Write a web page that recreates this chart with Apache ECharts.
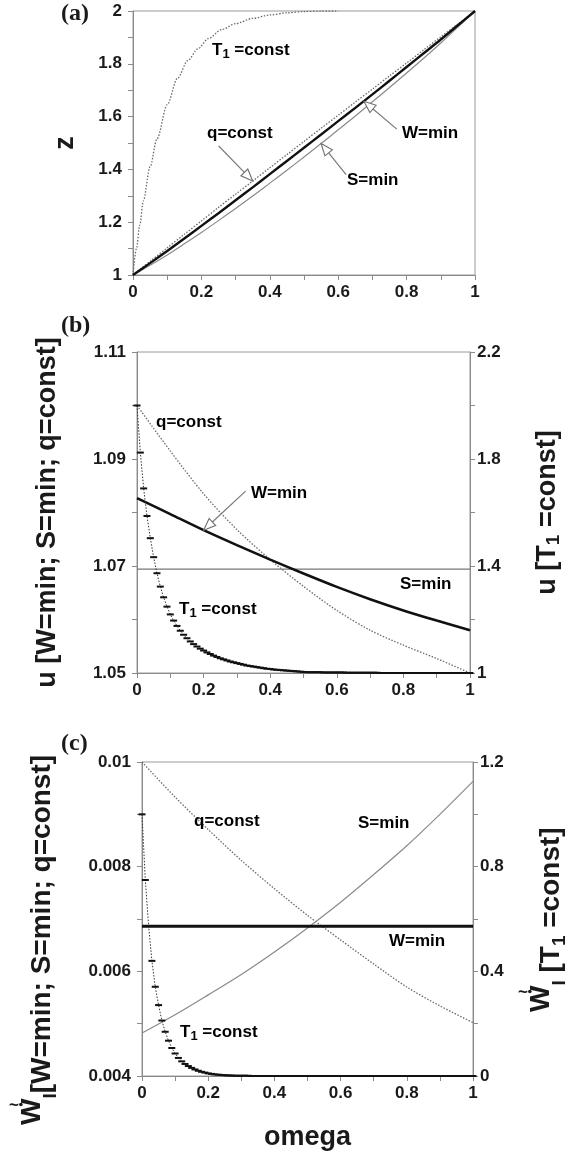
<!DOCTYPE html>
<html>
<head>
<meta charset="utf-8">
<script src="https://cdn.jsdelivr.net/npm/echarts@6/dist/echarts.min.js"></script>
<style>
  html, body { margin: 0; padding: 0; background: #fff; }
  #chart { width: 577px; height: 1152px; }
</style>
</head>
<body>
<div id="chart"></div>
<script>
// ---------- (a) z versus omega ----------
const omegaA = [0, 0.05, 0.1, 0.15, 0.2, 0.25, 0.3, 0.35, 0.4, 0.45, 0.5,
                0.55, 0.6, 0.65, 0.7, 0.75, 0.8, 0.85, 0.9, 0.95, 1];
const zQconst = [1, 1.052, 1.103, 1.154, 1.205, 1.256, 1.306, 1.356, 1.406, 1.456, 1.506,
                 1.556, 1.605, 1.655, 1.704, 1.754, 1.803, 1.853, 1.902, 1.951, 2];
const zWmin = [1, 1.045, 1.091, 1.138, 1.186, 1.234, 1.283, 1.332, 1.382, 1.432, 1.482,
               1.532, 1.583, 1.633, 1.684, 1.736, 1.788, 1.840, 1.892, 1.946, 2];
const zSmin = [1, 1.037, 1.076, 1.118, 1.161, 1.206, 1.252, 1.299, 1.348, 1.397, 1.447,
               1.498, 1.550, 1.602, 1.656, 1.710, 1.765, 1.821, 1.879, 1.939, 2];
const omegaT1a = [0, 0.01, 0.02, 0.03, 0.05, 0.07, 0.1, 0.13, 0.16, 0.19, 0.22,
                  0.26, 0.3, 0.35, 0.4, 0.45, 0.5, 0.55, 0.6];
const zT1const = [1, 1.10, 1.19, 1.28, 1.41, 1.515, 1.645, 1.745, 1.812, 1.857, 1.895,
                  1.930, 1.952, 1.972, 1.985, 1.993, 1.998, 2, 2];

// ---------- (b) u versus omega ----------
const omegaB = [0, 0.1, 0.2, 0.3, 0.4, 0.5, 0.6, 0.7, 0.8, 0.9, 1];
const uQconst = [1.1000, 1.0915, 1.0835, 1.0768, 1.0712, 1.0662, 1.0617, 1.0580, 1.0552, 1.0527, 1.0500];
const uWmin = [1.0827, 1.0797, 1.0767, 1.0739, 1.0712, 1.0686, 1.0661, 1.0638, 1.0617, 1.0598, 1.0580];
const uSmin = [1.0694, 1.0694, 1.0694, 1.0694, 1.0694, 1.0694, 1.0694, 1.0694, 1.0694, 1.0694, 1.0694];

// fine omega grid of the T1=const solution, (b) and (c)
const omegaFine = [
  0.00, 0.01, 0.02, 0.03, 0.04, 0.05, 0.06, 0.07, 0.08, 0.09,
  0.10, 0.11, 0.12, 0.13, 0.14, 0.15, 0.16, 0.17, 0.18, 0.19,
  0.20, 0.21, 0.22, 0.23, 0.24, 0.25, 0.26, 0.27, 0.28, 0.29,
  0.30, 0.31, 0.32, 0.33, 0.34, 0.35, 0.36, 0.37, 0.38, 0.39,
  0.40, 0.41, 0.42, 0.43, 0.44, 0.45, 0.46, 0.47, 0.48, 0.49,
  0.50, 0.51, 0.52, 0.53, 0.54, 0.55, 0.56, 0.57, 0.58, 0.59,
  0.60, 0.61, 0.62, 0.63, 0.64, 0.65, 0.66, 0.67, 0.68, 0.69,
  0.70, 0.71, 0.72, 0.73, 0.74, 0.75, 0.76, 0.77, 0.78, 0.79,
  0.80, 0.81, 0.82, 0.83, 0.84, 0.85, 0.86, 0.87, 0.88, 0.89,
  0.90, 0.91, 0.92, 0.93, 0.94, 0.95, 0.96, 0.97, 0.98, 0.99, 1.00
];
const uT1const = [
  2.000, 1.824, 1.690, 1.587, 1.504, 1.433, 1.373, 1.323, 1.283, 1.248,
  1.219, 1.196, 1.176, 1.158, 1.143, 1.130, 1.118, 1.108, 1.099, 1.091,
  1.084, 1.077, 1.071, 1.065, 1.060, 1.055, 1.051, 1.047, 1.043, 1.040,
  1.037, 1.034, 1.031, 1.028, 1.026, 1.024, 1.022, 1.020, 1.018, 1.016,
  1.015, 1.013, 1.012, 1.011, 1.010, 1.009, 1.008, 1.007, 1.006, 1.005,
  1.004, 1.003, 1.003, 1.003, 1.003, 1.003, 1.002, 1.002, 1.002, 1.002,
  1.002, 1.002, 1.002, 1.001, 1.001, 1.001, 1.001, 1.001, 1.001, 1.001,
  1.001, 1.001, 1.001, 1.000, 1.000, 1.000, 1.000, 1.000, 1.000, 1.000,
  1.000, 1.000, 1.000, 1.000, 1.000, 1.000, 1.000, 1.000, 1.000, 1.000,
  1.000, 1.000, 1.000, 1.000, 1.000, 1.000, 1.000, 1.000, 1.000, 1.000, 1.000
];

// ---------- (c) dimensionless power versus omega ----------
const omegaC = [0, 0.1, 0.2, 0.3, 0.4, 0.5, 0.6, 0.7, 0.8, 0.9, 1];
const wQconst = [0.01000, 0.00933, 0.00871, 0.00812, 0.00758, 0.00707, 0.00660, 0.00614, 0.00570, 0.00534, 0.00502];
const wWmin = [0.00686, 0.00686, 0.00686, 0.00686, 0.00686, 0.00686, 0.00686, 0.00686, 0.00686, 0.00686, 0.00686];
const wSmin = [0.00482, 0.00517, 0.00555, 0.00594, 0.00637, 0.00683, 0.00732, 0.00785, 0.00840, 0.00900, 0.00963];
const wT1const = [
  1.000, 0.749, 0.573, 0.440, 0.341, 0.271, 0.212, 0.169, 0.135, 0.107,
  0.086, 0.069, 0.056, 0.046, 0.038, 0.031, 0.025, 0.020, 0.016, 0.013,
  0.010, 0.008, 0.006, 0.005, 0.004, 0.003, 0.002, 0.002, 0.001, 0.001,
  0.001, 0.001, 0.001, 0, 0, 0, 0, 0, 0, 0,
  0, 0, 0, 0, 0, 0, 0, 0, 0, 0,
  0, 0, 0, 0, 0, 0, 0, 0, 0, 0,
  0, 0, 0, 0, 0, 0, 0, 0, 0, 0,
  0, 0, 0, 0, 0, 0, 0, 0, 0, 0,
  0, 0, 0, 0, 0, 0, 0, 0, 0, 0,
  0, 0, 0, 0, 0, 0, 0, 0, 0, 0, 0
];

const FONT_NAME = 'Liberation Sans';
const FONT = '"Liberation Sans", Arial, Helvetica, sans-serif';
const SERIF = '"Liberation Serif", "Times New Roman", serif';
const AXIS_GREY = '#8a8a8a';
const TEXT = '#1a1a1a';
const TICK_SIZE = 17;

const pairs = (xs, ys) => xs.map((x, i) => [x, ys[i]]);

const tickLabel = (fmt, extra) => Object.assign({
  fontSize: TICK_SIZE, fontWeight: 'bold', fontFamily: FONT, color: TEXT, formatter: fmt
}, extra || {});

const fmtOmega = v => {
  const k = Math.round(v * 10);
  if (k % 2 !== 0) return '';
  return k === 0 ? '0' : k === 10 ? '1' : (k / 10).toFixed(1);
};

function xAxisFor(gridIndex, extra) {
  return Object.assign({
    type: 'value', gridIndex, min: 0, max: 1, interval: 0.1,
    axisLine: { show: true, onZero: false, lineStyle: { color: AXIS_GREY, width: 1 } },
    axisTick: { show: true, inside: false, length: 5, lineStyle: { color: AXIS_GREY } },
    splitLine: { show: false },
    axisLabel: tickLabel(fmtOmega, { margin: 9 })
  }, extra || {});
}

function yAxisFor(gridIndex, position, min, max, interval, fmt, extra) {
  return Object.assign({
    type: 'value', gridIndex, position, min, max, interval,
    axisLine: { show: true, onZero: false, lineStyle: { color: AXIS_GREY, width: 1 } },
    axisTick: { show: true, inside: false, length: 5, lineStyle: { color: AXIS_GREY } },
    splitLine: { show: false },
    axisLabel: tickLabel(fmt, { margin: position === 'left' ? 11 : 7 }),
    nameLocation: 'middle', nameRotate: 90
  }, extra || {});
}

const nameStyle = {
  fontSize: 27, fontWeight: 'bold', fontFamily: FONT, color: TEXT,
  rich: {
    t: { fontSize: 27, fontWeight: 'bold', fontFamily: FONT, color: TEXT },
    s: { fontSize: 19, fontWeight: 'bold', fontFamily: FONT, color: TEXT, padding: [12, 0, 0, 0] }
  }
};

const dotted = (color, width) => ({ color, width, type: [1.5, 1.6] });

const option = {
  animation: false,
  backgroundColor: '#fff',
  grid: [
    { left: 133, top: 11, width: 342, height: 264, show: true, borderColor: '#9a9a9a', borderWidth: 1 },
    { left: 137, top: 352, width: 333, height: 321, show: true, borderColor: '#9a9a9a', borderWidth: 1 },
    { left: 142, top: 762, width: 331, height: 314, show: true, borderColor: '#9a9a9a', borderWidth: 1 }
  ],
  xAxis: [
    xAxisFor(0),
    xAxisFor(1),
    xAxisFor(2, {
      name: 'omega', nameLocation: 'middle', nameGap: 48,
      nameTextStyle: { fontSize: 27, fontWeight: 'bold', fontFamily: FONT, color: TEXT }
    })
  ],
  yAxis: [
    yAxisFor(0, 'left', 1, 2, 0.1,
      v => { const k = Math.round(v * 10); return k % 2 ? '' : (k === 10 ? '1' : k === 20 ? '2' : (k / 10).toFixed(1)); },
      { name: 'z', nameGap: 54, nameTextStyle: nameStyle }),
    yAxisFor(1, 'left', 1.05, 1.11, 0.01,
      v => { const k = Math.round(v * 100); return k % 2 ? (k / 100).toFixed(2) : ''; },
      { name: '{t|u [W=min; S=min; q=const]}', nameGap: 76, nameTextStyle: nameStyle }),
    yAxisFor(1, 'right', 1, 2.2, 0.2,
      v => { const k = Math.round(v * 10); return (k - 10) % 4 ? '' : (k === 10 ? '1' : (k / 10).toFixed(1)); },
      { name: '{t|u [T}{s|1}{t| =const]}', nameGap: 62, nameTextStyle: nameStyle }),
    yAxisFor(2, 'left', 0.004, 0.01, 0.001,
      v => { const k = Math.round(v * 1000); return k % 2 ? '' : (k === 10 ? '0.01' : (k / 1000).toFixed(3)); }),
    yAxisFor(2, 'right', 0, 1.2, 0.2,
      v => { const k = Math.round(v * 10); return k % 4 ? '' : (k === 0 ? '0' : (k / 10).toFixed(1)); })
  ],
  series: [
    // (a)
    { name: 'q=const', type: 'line', xAxisIndex: 0, yAxisIndex: 0, data: pairs(omegaA, zQconst),
      showSymbol: false, smooth: 0.3, lineStyle: dotted('#6a6a6a', 1.3), z: 3 },
    { name: 'W=min', type: 'line', xAxisIndex: 0, yAxisIndex: 0, data: pairs(omegaA, zWmin),
      showSymbol: false, smooth: 0.3, lineStyle: { color: '#111', width: 2.4 }, z: 4 },
    { name: 'S=min', type: 'line', xAxisIndex: 0, yAxisIndex: 0, data: pairs(omegaA, zSmin),
      showSymbol: false, smooth: 0.3, lineStyle: { color: '#8a8a8a', width: 1.2 }, z: 3 },
    { name: 'T1=const', type: 'line', xAxisIndex: 0, yAxisIndex: 0, data: pairs(omegaT1a, zT1const),
      showSymbol: false, smooth: 0.3, smoothMonotone: 'x', lineStyle: dotted('#6a6a6a', 1.3), z: 3 },
    // (b)
    { name: 'q=const', type: 'line', xAxisIndex: 1, yAxisIndex: 1, data: pairs(omegaB, uQconst),
      showSymbol: false, smooth: 0.3, lineStyle: dotted('#6a6a6a', 1.3), z: 3 },
    { name: 'W=min', type: 'line', xAxisIndex: 1, yAxisIndex: 1, data: pairs(omegaB, uWmin),
      showSymbol: false, smooth: 0.3, lineStyle: { color: '#111', width: 2.6 }, z: 4 },
    { name: 'S=min', type: 'line', xAxisIndex: 1, yAxisIndex: 1, data: pairs(omegaB, uSmin),
      showSymbol: false, lineStyle: { color: '#777', width: 1.2 }, z: 3 },
    { name: 'T1=const', type: 'line', xAxisIndex: 1, yAxisIndex: 2, data: pairs(omegaFine, uT1const),
      showSymbol: true, symbol: 'rect', symbolSize: [7, 2], itemStyle: { color: '#111' },
      lineStyle: dotted('#333', 1), z: 5 },
    // (c)
    { name: 'q=const', type: 'line', xAxisIndex: 2, yAxisIndex: 3, data: pairs(omegaC, wQconst),
      showSymbol: false, smooth: 0.3, lineStyle: dotted('#6a6a6a', 1.3), z: 3 },
    { name: 'W=min', type: 'line', xAxisIndex: 2, yAxisIndex: 3, data: pairs(omegaC, wWmin),
      showSymbol: false, lineStyle: { color: '#111', width: 3 }, z: 4 },
    { name: 'S=min', type: 'line', xAxisIndex: 2, yAxisIndex: 3, data: pairs(omegaC, wSmin),
      showSymbol: false, smooth: 0.3, lineStyle: { color: '#8a8a8a', width: 1.2 }, z: 3 },
    { name: 'T1=const', type: 'line', xAxisIndex: 2, yAxisIndex: 4, data: pairs(omegaFine, wT1const),
      showSymbol: true, symbol: 'rect', symbolSize: [7, 2], itemStyle: { color: '#111' },
      lineStyle: dotted('#333', 1), z: 5 }
  ]
};

const chart = echarts.init(document.getElementById('chart'));
chart.setOption(option);

// ---------- annotations: panel letters, curve labels, arrows, (c) axis titles ----------
const labelRich = {
  a: { fontSize: 17, fontWeight: 'bold', fontFamily: FONT, color: TEXT },
  s: { fontSize: 13, fontWeight: 'bold', fontFamily: FONT, color: TEXT, padding: [9, 0, 0, 0] }
};

function label(text, x, y) {
  return { type: 'text', z: 20, style: { text, x, y, rich: labelRich, verticalAlign: 'middle', align: 'left' } };
}
function panelTag(text, x, y) {
  return { type: 'text', z: 20, style: { text, x, y, font: 'bold 24px ' + SERIF, fill: TEXT, verticalAlign: 'middle', align: 'left' } };
}

// hollow-headed arrow pointing at tip, drawn from tip + (dx, dy)
function arrow(tip, dx, dy) {
  const tail = [tip[0] + dx, tip[1] + dy];
  const len = Math.hypot(dx, dy);
  const ux = -dx / len, uy = -dy / len;
  const nx = -uy, ny = ux;
  const headL = 12, headW = 4.8;
  const base = [tip[0] - ux * headL, tip[1] - uy * headL];
  return [
    { type: 'line', z: 18, shape: { x1: tail[0], y1: tail[1], x2: base[0], y2: base[1] },
      style: { stroke: '#7a7a7a', lineWidth: 1.2 } },
    { type: 'polygon', z: 19,
      shape: { points: [tip, [base[0] + nx * headW, base[1] + ny * headW], [base[0] - nx * headW, base[1] - ny * headW]] },
      style: { fill: '#fff', stroke: '#6f6f6f', lineWidth: 1.1 } }
  ];
}

const at = (seriesIndex, x, y) => chart.convertToPixel({ seriesIndex }, [x, y]);
const mid = (p, q) => [(p[0] + q[0]) / 2, (p[1] + q[1]) / 2];

// vertical (bottom-to-top) title built from runs with their own size and baseline
const measureCtx = document.createElement('canvas').getContext('2d');
const advance = (text, size) => { measureCtx.font = 'bold ' + size + 'px "' + FONT_NAME + '"'; return measureCtx.measureText(text).width; };

function verticalTitle(startY, runs) {
  const els = [];
  let y = startY;
  const marks = [];
  runs.forEach(r => {
    const w = advance(r.text, r.size);
    els.push({
      type: 'text', z: 20, x: r.baseX - 0.3465 * r.size, y, rotation: Math.PI / 2,
      style: { text: r.text, font: 'bold ' + r.size + 'px ' + FONT, fill: TEXT, align: 'left', verticalAlign: 'middle' }
    });
    if (r.accent) marks.push({ baseX: r.baseX, y0: y, y1: y - w, size: r.size });
    y -= w;
  });
  // dot and tilde over the power symbol
  marks.forEach(m => {
    const cy = m.y1 + 6;
    els.push({ type: 'circle', z: 20, shape: { cx: m.baseX - 0.755 * m.size, cy, r: 1.8 }, style: { fill: TEXT } });
    els.push({ type: 'text', z: 20, style: { text: '~', x: m.baseX - 1.0 * m.size, y: cy + 1,
      font: 'bold 17px ' + FONT, fill: TEXT, align: 'center', verticalAlign: 'middle' } });
  });
  return els;
}

const graphics = [
  panelTag('(a)', 61, 14),
  panelTag('(b)', 61, 326),
  panelTag('(c)', 61, 744),

  label('{a|T}{s|1}{a| =const}', 212, 50),
  label('{a|q=const}', 207, 133),
  label('{a|W=min}', 402, 133),
  label('{a|S=min}', 347, 180),
  ...arrow(at(0, omegaA[7], zQconst[7]), -34, -35),
  ...arrow(mid(at(1, omegaA[13], zWmin[13]), at(1, omegaA[14], zWmin[14])), 33, 28),
  ...arrow(at(2, omegaA[11], zSmin[11]), 25, 31),

  label('{a|q=const}', 156, 422),
  label('{a|W=min}', 251, 493),
  label('{a|S=min}', 400, 584),
  label('{a|T}{s|1}{a| =const}', 179, 609),
  ...arrow(at(5, omegaB[2], uWmin[2]), 42, -39),

  label('{a|q=const}', 194, 821),
  label('{a|S=min}', 358, 823),
  label('{a|W=min}', 389, 941),
  label('{a|T}{s|1}{a| =const}', 180, 1032),

  ...verticalTitle(1125, [
    { text: 'W', size: 28, baseX: 42, accent: true },
    { text: 'I', size: 19, baseX: 57 },
    { text: '[W=min; S=min; q=const]', size: 28, baseX: 52 }
  ]),
  ...verticalTitle(1012, [
    { text: 'W', size: 28, baseX: 551, accent: true },
    { text: 'I', size: 19, baseX: 566 },
    { text: ' [T', size: 28, baseX: 561 },
    { text: '1', size: 19, baseX: 566 },
    { text: ' =const]', size: 28, baseX: 561 }
  ])
];

chart.setOption({ graphic: graphics });
</script>
</body>
</html>
